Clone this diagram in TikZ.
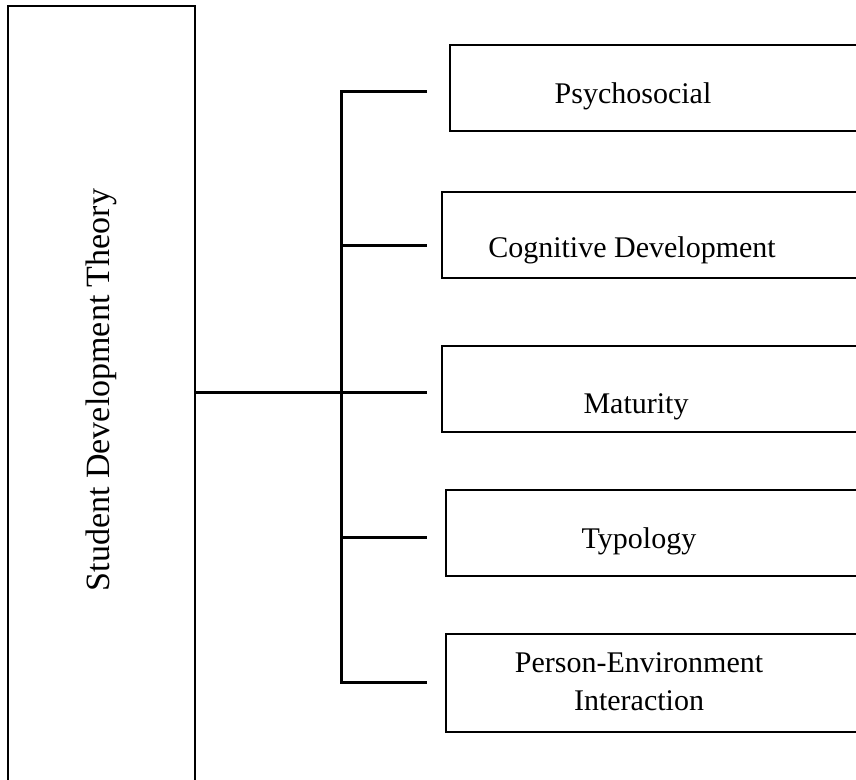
\documentclass[tikz,border=0pt]{standalone}
\usepackage{fontspec}
\setmainfont{Liberation Serif}
\newcommand*{\xSpine}{341}
\newcommand*{\xTip}{427}
\newcommand*{\BoxFont}{\fontsize{22.5}{28.5}\selectfont}

\begin{document}
\begin{tikzpicture}[x=0.75pt, y=-0.75pt,
	box/.style={draw, line width=1.5pt, rectangle, inner sep=0pt, outer sep=0pt, anchor=north west},
	wire/.style={line width=2.25pt, line join=miter},
	caption/.style={font=\BoxFont, align=center, anchor=base, inner sep=0pt}]
	\clip (0,0) rectangle (856,780);
	% theory box (runs past the bottom edge)
	\node [box, minimum width=140.25pt, minimum height=750pt] (sdt) at (8,6) {};
	\node [font=\fontsize{25.5}{30}\selectfont, rotate=90, anchor=base, inner sep=0pt] (sdttext) at (109,390) {Student Development Theory};
	% branch boxes (run past the right edge)
	\foreach \n/\x/\top/\h/\tx/\ty/\txt in {
		1/450/45/64.5/633/104/Psychosocial,
		2/442/192/64.5/632/258/Cognitive Development,
		3/442/346/64.5/636/413/Maturity,
		4/446/490/64.5/639/548/Typology,
		5/446/634/73.5/639/710/{Person-Environment\\Interaction}}
	{
		\node [box, minimum width=360pt, minimum height=\h pt] (b\n) at (\x,\top) {};
		\node [caption] (t\n) at (\tx,\ty) {\txt};
	}
	% spine and branches
	\foreach \n/\y in {1/92, 2/246, 3/392, 4/537, 5/682}
	{
		\coordinate (s\n) at (\xSpine,\y);
		\coordinate (e\n) at (\xTip,\y);
	}
	\draw [wire] (e1) -- (s1) -- (s5) -- (e5);
	\draw [wire] (s2) -- (e2);
	\draw [wire] (s3) -- (e3);
	\draw [wire] (s4) -- (e4);
	\draw [wire] (sdt.east |- s3) -- (s3);
\end{tikzpicture}
\end{document}
